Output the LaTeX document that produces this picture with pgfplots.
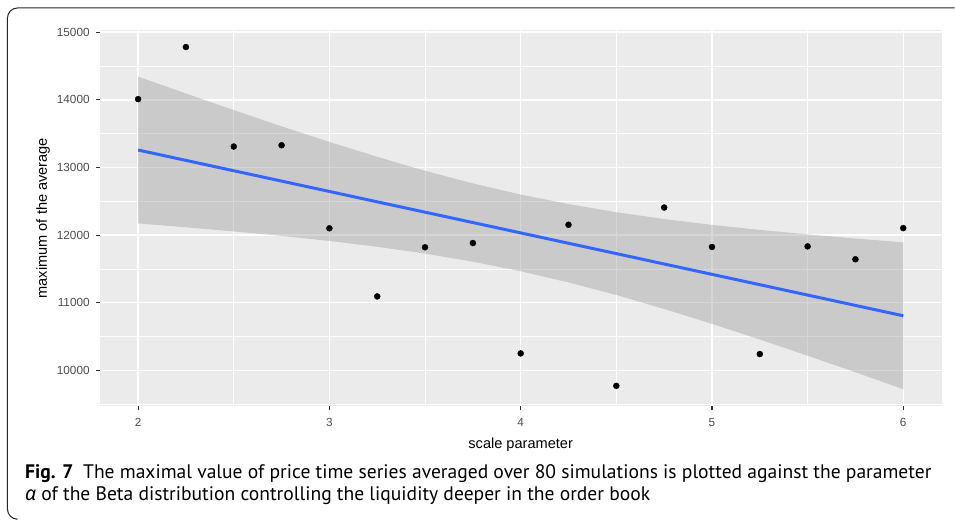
\documentclass[border=0pt]{standalone}
\usepackage{fontspec}
\setmainfont{Liberation Sans}
\newfontfamily\capfont{PT Sans}
\newfontfamily\greekfont{Noto Sans}
\usepackage{pgfplots}
\usepackage{pgfplotstable}
\pgfplotsset{compat=1.18}
\definecolor{panel}{HTML}{EBEBEB}
\definecolor{bandgrey}{HTML}{999999}
\definecolor{lineblue}{HTML}{3366FF}
\definecolor{tickgrey}{HTML}{333333}
\definecolor{labgrey}{HTML}{4D4D4D}
\pgfplotstableread{
x y
2 14010
2.25 14780
2.5 13309
2.75 13328
3 12100
3.25 11093
3.5 11819
3.75 11882
4 10250
4.25 12152
4.5 9770
4.75 12407
5 11824
5.25 10240
5.5 11833
5.75 11642
6 12103
}\pointsdata
\pgfplotstableread{
x fit
2 13257.5
6 10806.3
}\fitdata
% confidence band outline: upper edge left to right, then lower edge right to left
\pgfplotstableread{
x y
2 14344
2.25 14093
2.5 13848
2.75 13608
3 13377
3.25 13157
3.5 12950
3.75 12764
4 12599
4.25 12458
4.5 12338
4.75 12237
5 12151
5.25 12076
5.5 12010
5.75 11949
6 11892
6 9720
5.75 9971
5.5 10216
5.25 10456
5 10687
4.75 10907
4.5 11114
4.25 11300
4 11465
3.75 11606
3.5 11726
3.25 11827
3 11913
2.75 11988
2.5 12054
2.25 12115
2 12172
}\banddata
\begin{document}
\begin{tikzpicture}
\draw[black!85, line width=1pt, rounded corners=10pt] (16pt,-520pt) -- (7.5pt,-520pt) -- (7.5pt,-8pt) -- (956pt,-8pt);
\begin{axis}[
  at={(100pt,-407pt)}, anchor=south west,
  scale only axis, width=843pt, height=377pt,
  xmin=1.8, xmax=6.2, ymin=9467, ymax=15033,
  axis background/.style={fill=panel},
  axis line style={draw=none},
  xtick={2,3,4,5,6}, ytick={10000,11000,12000,13000,14000,15000},
  minor xtick={2.5,3.5,4.5,5.5},
  minor ytick={9500,10500,11500,12500,13500,14500},
  grid=both,
  major grid style={white, line width=1.5pt},
  minor grid style={white, line width=0.75pt},
  tick align=outside, tick pos=left,
  major tick length=4pt, minor tick length=0pt,
  major tick style={color=tickgrey, line width=1.1pt},
  /pgf/number format/assume math mode=true,
  /pgf/number format/1000 sep={},
  scaled y ticks=false,
  tick label style={font=\fontsize{11.8}{12}\selectfont, text=labgrey, inner sep=0pt},
  xticklabel style={yshift=-8pt},
  yticklabel style={xshift=-6pt},
]
\addplot[only marks, mark=*, mark size=3pt, mark options={fill=black, draw=none}] table[x=x, y=y] {\pointsdata};
\addplot[fill=bandgrey, fill opacity=0.4, draw=none] table[x=x, y=y] {\banddata} -- cycle;
\addplot[lineblue, line width=3pt, no marks] table[x=x, y=fit] {\fitdata};
\end{axis}
\node[anchor=base, inner sep=0pt, font=\fontsize{14.6}{16}\selectfont] at (521.5pt,-449pt) {scale parameter};
\node[anchor=base, rotate=90, inner sep=0pt, font=\fontsize{14.6}{16}\selectfont] at (47pt,-218.5pt) {maximum of the average};
\node[anchor=base west, inner sep=0pt, font=\capfont\fontsize{19.6}{22}\selectfont] at (25pt,-479.5pt) {\textbf{Fig. 7}\hspace{0.5em}The maximal value of price time series averaged over 80 simulations is plotted against the parameter};
\node[anchor=base west, inner sep=0pt, font=\capfont\fontsize{19.6}{22}\selectfont] at (25pt,-501.5pt) {{\greekfont\itshape α} of the Beta distribution controlling the liquidity deeper in the order book};
\useasboundingbox (0pt,0pt) rectangle (955pt,-521pt);
\end{tikzpicture}
\end{document}
